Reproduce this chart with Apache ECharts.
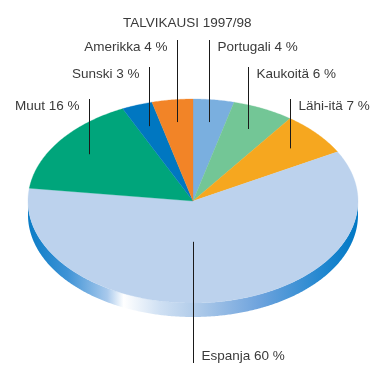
<!DOCTYPE html>
<html>
<head>
<meta charset="utf-8">
<script src="https://cdn.jsdelivr.net/npm/echarts@6/dist/echarts.min.js"></script>
<style>
  html, body { margin: 0; padding: 0; background: #fff; }
  #chart { width: 389px; height: 365px; }
</style>
</head>
<body>
<div id="chart"></div>
<script>
// Matkakohteet talvikaudella 1997/98 (%), myötäpäivään ylhäältä alkaen
const categories = ['Portugali', 'Kaukoitä', 'Lähi-itä', 'Espanja', 'Muut', 'Sunski', 'Amerikka'];
const shares = [4, 6, 7, 60, 16, 3, 4];
const sliceColors = ['#7aafdf', '#73c696', '#f6a71f', '#bcd2ed', '#00a57b', '#0077c1', '#f28427'];
const titleText = 'TALVIKAUSI 1997/98';

// Tilted pie geometry
const geo = { cx: 193, cy: 201, rx: 165, ry: 102, depth: 14 };
const labelRows = [47, 74, 106];   // upper label rows, nearest the top first
const bottomRow = 356;
const anchorFrac = 0.78;
const FONT = 'Liberation Sans, Arial, sans-serif';
const FONT_SIZE = 13.5;
const TEXT_COLOR = '#3a3a3a';

const total = shares.reduce((a, b) => a + b, 0);
const slices = [];
let acc = 0;
shares.forEach((v, i) => {
  const a0 = acc / total * 360;
  acc += v;
  const a1 = acc / total * 360;
  slices.push({ a0, a1, mid: (a0 + a1) / 2 });
});

// label tier for the upper slices: ordered by distance from 12 o'clock on each side
const tiers = {};
['right', 'left'].forEach(side => {
  const idx = slices.map((s, i) => i).filter(i => {
    const m = slices[i].mid;
    if (m > 90 && m < 270) return false;
    return side === 'right' ? m <= 90 : m >= 270;
  });
  idx.sort((a, b) => {
    const da = Math.min(slices[a].mid, 360 - slices[a].mid);
    const db = Math.min(slices[b].mid, 360 - slices[b].mid);
    return da - db;
  });
  idx.forEach((i, k) => { tiers[i] = k; });
});

function pt(deg, rx, ry, cy) {
  const t = deg * Math.PI / 180;
  return [geo.cx + rx * Math.sin(t), cy - ry * Math.cos(t)];
}

function arcPoints(a0, a1, cy) {
  const pts = [];
  const n = Math.max(2, Math.ceil((a1 - a0) / 0.5));
  for (let k = 0; k <= n; k++) pts.push(pt(a0 + (a1 - a0) * k / n, geo.rx, geo.ry, cy));
  return pts;
}

const rimGradient = {
  type: 'linear', global: true,
  x: geo.cx - geo.rx, y: 0, x2: geo.cx + geo.rx, y2: 0,
  colorStops: [
    { offset: 0.00, color: '#0a7cc6' },
    { offset: 0.12, color: '#3f93d6' },
    { offset: 0.24, color: '#a8c9ec' },
    { offset: 0.29, color: '#ffffff' },
    { offset: 0.40, color: '#cfe0f3' },
    { offset: 0.50, color: '#b3cdea' },
    { offset: 0.70, color: '#6ea3dd' },
    { offset: 0.90, color: '#1f86cf' },
    { offset: 1.00, color: '#0078c4' }
  ]
};

function renderSlice(params, api) {
  const i = params.dataIndex;
  const s = slices[i];
  const children = [];

  // visible rim: the part of the slice facing the viewer (90°..270°)
  const r0 = Math.max(s.a0, 90), r1 = Math.min(s.a1, 270);
  if (r1 > r0) {
    const top = arcPoints(r0, r1, geo.cy);
    const bottom = arcPoints(r0, r1, geo.cy + geo.depth).reverse();
    children.push({
      type: 'polygon', z2: 1,
      shape: { points: top.concat(bottom) },
      style: { fill: rimGradient }
    });
  }

  // top face
  children.push({
    type: 'polygon', z2: 2,
    shape: { points: [[geo.cx, geo.cy]].concat(arcPoints(s.a0, s.a1, geo.cy)) },
    style: { fill: sliceColors[i], stroke: sliceColors[i], lineWidth: 0.3 }
  });

  // leader line and label
  const lower = s.mid > 90 && s.mid < 270;
  let anchor;
  if (lower) {
    // a slice that holds the front of the pie hangs its label from the front
    const a = (s.a0 <= 180 && s.a1 >= 180) ? 180 : s.mid;
    anchor = pt(a, geo.rx * 0.4, geo.ry * 0.4, geo.cy);
  } else {
    anchor = pt(s.mid, geo.rx * anchorFrac, geo.ry * anchorFrac, geo.cy);
  }
  const lx = Math.round(anchor[0]) + 0.5;
  const text = categories[i] + ' ' + shares[i] + ' %';
  let rowY, y1, y2, align, tx;
  if (lower) {
    rowY = bottomRow;
    y1 = anchor[1]; y2 = rowY + 7;
    align = 'left'; tx = lx + 8;
  } else {
    rowY = labelRows[tiers[i]];
    y1 = rowY - 7; y2 = anchor[1];
    const right = s.mid <= 90;
    align = right ? 'left' : 'right';
    tx = right ? lx + 8 : lx - 10;
  }
  children.push({
    type: 'line', z2: 10,
    shape: { x1: lx, y1: y1, x2: lx, y2: y2 },
    style: { stroke: '#1a1a1a', lineWidth: 1 }
  });
  children.push({
    type: 'text', z2: 10,
    style: {
      text: text, x: tx, y: rowY,
      fill: TEXT_COLOR, fontSize: FONT_SIZE, fontFamily: FONT,
      align: align, verticalAlign: 'middle'
    }
  });
  return { type: 'group', children: children };
}

const chart = echarts.init(document.getElementById('chart'), null, { renderer: 'canvas' });
chart.setOption({
  backgroundColor: '#ffffff',
  animation: false,
  title: {
    text: titleText, left: 118, top: 11,
    textStyle: { fontSize: FONT_SIZE, fontWeight: 'normal', color: TEXT_COLOR, fontFamily: FONT }
  },
  series: [{
    type: 'custom',
    coordinateSystem: 'none',
    renderItem: renderSlice,
    data: shares.map((v, i) => ({ name: categories[i], value: v }))
  }]
});
</script>
</body>
</html>
